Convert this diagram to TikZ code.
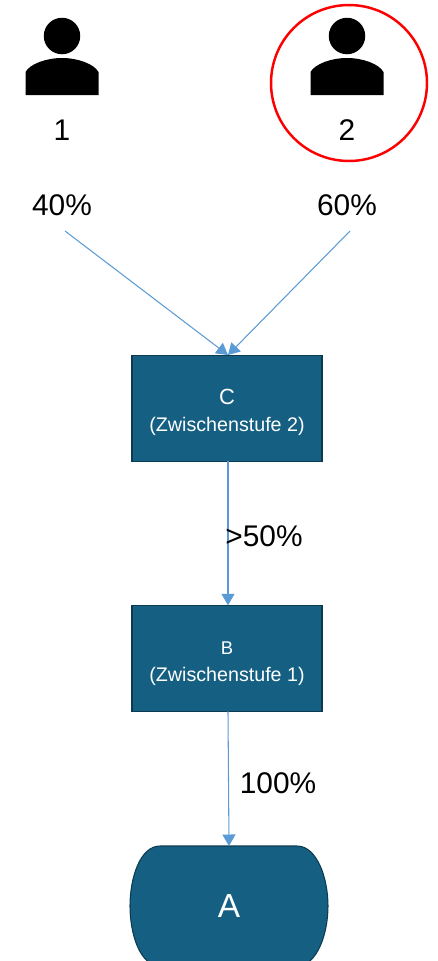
\documentclass[tikz,border=0pt]{standalone}
\usepackage{fontspec}
\setmainfont{Liberation Sans}
\usetikzlibrary{arrows.meta}
\definecolor{boxfill}{HTML}{156082}
\definecolor{boxline}{HTML}{0C3A50}
\definecolor{arrowblue}{HTML}{5B9BD5}
\tikzset{
  stufe/.style = {rectangle, draw=boxline, fill=boxfill, line width=.8pt, text=white, outer sep=0pt,
    align=center, minimum width=3.8cm, minimum height=2.12cm, font=\fontsize{11.2}{15.5}\selectfont},
  label/.style = {inner sep=0pt, font=\fontsize{17}{19}\selectfont},
  link/.style = {arrowblue, line width=.6pt, -{Triangle[length=.23cm,width=.26cm]}},
  head/.style = {circle, fill=black, inner sep=0pt, minimum size=.73cm}
}
\begin{document}
\begin{tikzpicture}[x = .02cm, y = -.02cm]
  \useasboundingbox (0,0) rectangle (437,961);
  \node[head] (h1) at (62,36) {};
  \node[head] (h2) at (347,36) {};
  \foreach \x in {62,347} {
    \fill[xshift=\x*.02cm] (-36.5,95) -- (-36.5,72) .. controls (-32,64) and (-16,58) .. (0,58)
      .. controls (16,58) and (32,64) .. (36.5,72) -- (36.5,95) -- cycle;
  }
  \node[label] (1) at (62,130) {1};
  \node[label] (2) at (347,130) {2};
  \node[circle, draw=red, line width=1.4pt, inner sep=0pt, minimum size=3.12cm] (ring) at (349,83) {};
  \node[label] (40) at (62,205) {40\%};
  \node[label] (60) at (347,205) {60\%};
  \coordinate (from40) at (65,231);
  \coordinate (from60) at (350,231);
  \node[stufe] (C) at (227,408.3) {\rule{0pt}{13pt}\fontsize{12.5}{15.5}\selectfont C\\(Zwischenstufe 2)};
  \node[stufe] (B) at (227,658.3) {\rule{0pt}{13pt}\fontsize{10.5}{15.5}\selectfont B\\(Zwischenstufe 1)};
  \draw[boxline, fill=boxfill, line width=.6pt] (160,846) -- (297,846)
    .. controls (317,846) and (328,878) .. (328,906) .. controls (328,934) and (317,966) .. (297,966)
    -- (160,966) .. controls (140,966) and (130,934) .. (130,906)
    .. controls (130,878) and (140,846) .. (160,846) -- cycle;
  \node[text=white, font=\fontsize{19}{21}\selectfont, inner sep=0pt] (A) at (229,906) {A};
  \coordinate (Ctop) at (228,355);
  \coordinate (Atop) at (229,846);
  \draw[link] (from40)--(Ctop);
  \draw[link] (from60)--(Ctop);
  \draw[link] (C.south -| Ctop)--(B.north -| Ctop);
  \draw[link] (B.south -| Ctop)--(Atop);
  \node[label] (50) at (264,536) {>50\%};
  \node[label] (100) at (278,783) {100\%};
\end{tikzpicture}
\end{document}
